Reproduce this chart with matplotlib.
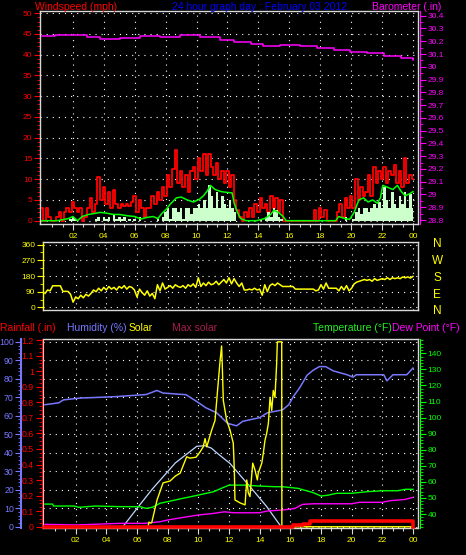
import numpy as np
import matplotlib
matplotlib.use('Agg')
import matplotlib.pyplot as plt
from matplotlib.ticker import MultipleLocator, FixedLocator, FuncFormatter

plt.rcParams['font.family'] = ['Liberation Sans', 'DejaVu Sans']

RED = '#ff0000'
GREEN = '#00ff00'
LGREEN = '#ccffcc'
MAG = '#ff00ff'
YEL = '#ffff00'
HUM = '#7878ff'
MAXSOL = '#c0d8ff'
FRAME = '#d8d8d8'

# ---- windspeed / barometer, 10 minute samples 00:00 .. 24:00
wind_t = np.arange(0, 24 + 1e-9, 1 / 6)
gust = [3, 0, 3, 1, 0, 0,
        1, 2, 0, 2, 3, 2,
        4.5, 3, 2, 3, 0, 1,
        3, 5.5, 2, 4, 10.5, 5,
        8, 4, 7, 3, 7.5, 4,
        3, 4, 3.5, 4, 3.5, 4.5,
        6, 2, 5, 3, 1, 3,
        3, 6, 4, 7, 5, 8,
        6, 11, 8, 12.5, 17, 9,
        12, 8, 11, 7, 12, 13,
        10, 15, 12, 16, 11, 16,
        13, 11, 14, 10, 12, 9,
        12, 8, 11, 5, 2.5, 1,
        0, 2, 1, 3, 1, 4,
        2, 5.5, 3, 4, 2, 6,
        3, 5.5, 2, 5, 0, 0,
        0, 0, 0, 0, 0, 0,
        0, 0, 0, 0, 2.5, 0,
        3, 1, 2.5, 0, 0, 0,
        0, 2, 4, 1, 5.5, 3,
        6, 3, 10, 5, 8, 6,
        7, 11, 6, 13, 9, 12,
        10, 13, 9, 12, 11, 13.5,
        9, 12, 8, 15, 9, 11,
        10]
speed = [0, 0, 0, 0, 0, 0,
         0, 0, 0, 0, 0, 0.5,
         1, 0.5, 0, 0, 0, 0,
         0, 0, 0, 0.5, 1, 0,
         1, 0.5, 1, 0, 1.5, 0.5,
         1, 0.5, 1, 0, 0.5, 0,
         0.5, 0, 1, 0, 0, 0,
         0, 0, 0, 0.5, 0, 1,
         2, 3, 0.5, 3, 3, 2,
         3, 0.5, 3, 3, 1.5, 3,
         3, 4, 3, 5, 3, 8.5,
         6, 3, 7, 3, 6, 4,
         3, 5, 3, 2, 0, 0,
         0, 0, 0, 0, 0, 0,
         0, 0.5, 0, 1, 2, 1,
         3, 2.5, 1, 0.5, 0, 0,
         0, 0, 0, 0, 0, 0,
         0, 0, 0, 0, 0, 0,
         0, 0, 0, 0, 0, 0,
         0, 0, 0, 0, 1, 0,
         0, 0.5, 2, 3, 1.5, 3,
         3, 2, 3, 4, 3, 4.5,
         3, 8, 5, 3, 7, 4,
         3, 6, 4, 7, 3, 6.5,
         3]
avg_t = [0, 0.5, 1.0, 1.7, 2.0, 2.3, 2.6, 3.0, 3.5, 3.75,
         4.2, 4.6, 5.0, 5.5, 6.0, 6.4, 6.8, 7.2, 7.5, 7.7,
         8.1, 8.3, 8.7, 9.0, 9.4, 9.8, 10.2, 10.45, 10.7, 10.9,
         11.2, 11.6, 12.0, 12.3, 12.45, 12.65, 12.85, 13.2, 13.9, 14.4,
         14.8, 15.0, 15.3, 15.6, 15.8, 19.0, 19.2, 19.6, 19.9, 20.2,
         20.5, 20.8, 21.1, 21.4, 21.7, 21.9, 22.05, 22.4, 22.7, 23.0,
         23.25, 23.5, 23.8, 24.0]
avg_v = [0, 0, 0, 0.5, 1, 0, 1, 1.5, 1.8, 2,
         1.8, 1.5, 1.5, 1.2, 1, 0.4, 0.8, 1, 0.5, 1.5,
         3, 4, 5.5, 5.7, 5, 4.5, 5.2, 6, 7.2, 8.5,
         7.5, 7, 6.8, 6.7, 4, 2, 0.5, 0, 0, 0.5,
         1.5, 2.5, 2, 1, 0, 0, 1, 0.5, 0.3, 2,
         5, 5.5, 4.5, 5, 4.2, 5.5, 8.5, 8, 7.5, 8.5,
         7, 6, 6.5, 7]
baro_t = [0, 0.84, 2.24, 2.9, 3.75, 4.83, 5.05, 6.34, 7.64, 8.93, 10.2, 11.5,
          12.4, 13.5, 14.3, 15.4, 16.7, 17.8, 18.9, 19.9, 21.0, 22.1, 23.2, 24.0]
baro_v = [30.238, 30.25, 30.248, 30.233, 30.215, 30.215, 30.228, 30.241,
          30.236, 30.248, 30.236, 30.213, 30.197, 30.175, 30.164, 30.167,
          30.164, 30.146, 30.133, 30.115, 30.110, 30.082, 30.072, 30.052]

# ---- wind direction, 10 minute samples
wdir = [80, 100, 95, 124, 124, 124,
        124, 92, 92, 92, 75, 30,
        60, 50, 70, 55, 75, 65,
        80, 100, 90, 110, 95, 115,
        100, 120, 105, 115, 100, 120,
        110, 125, 105, 120, 115, 100,
        60, 105, 85, 70, 95, 65,
        80, 50, 130, 95, 140, 105,
        115, 125, 110, 130, 120, 115,
        125, 110, 130, 120, 135, 115,
        170, 120, 140, 125, 145, 130,
        135, 150, 130, 145, 160, 140,
        170, 135, 165, 140, 120, 140,
        100, 100, 105, 100, 110, 100,
        105, 70, 130, 90, 125, 135,
        125, 140, 130, 120, 120, 120,
        120, 120, 105, 105, 105, 105,
        105, 105, 105, 105, 95, 100,
        130, 105, 140, 110, 110, 110,
        110, 95, 120, 100, 125, 95,
        110, 135, 145, 150, 155, 160,
        155, 160, 150, 165, 155, 160,
        165, 160, 170, 160, 170, 165,
        170, 165, 175, 170, 175, 168,
        178]

# ---- bottom panel
hum_t = [0, 0.9, 1.2, 2.3, 3.6, 4.7, 6.6, 7.3, 7.7, 9.2, 9.9, 10.5,
         11.2, 11.9, 12.3, 12.5, 12.9, 14.0, 14.5, 15.5, 15.9, 16.2,
         16.6, 17.1, 17.5, 17.9, 18.3, 18.8, 19.7, 20.1, 20.3, 22.1,
         22.3, 22.7, 23.6, 24.0]
hum_v = [66, 67, 68.6, 69.6, 70, 70.4, 71.5, 73.7, 72.3, 71.4, 67.7, 64.3,
         61.6, 56, 55, 54.6, 57, 59, 61.6, 63.2, 66, 70.4,
         75, 82, 84.7, 86.6, 86.6, 84.3, 82.2, 80.9, 82.2, 82.2,
         78.9, 82.2, 82.2, 85.8]
temp_t = [0, 0.5, 0.55, 1.9, 2.2, 3.3, 4.9, 6.2, 6.6, 7.0,
          7.5, 8.0, 9.0, 10.0, 11.0, 11.5, 12.0, 13.0, 14.0, 15.0,
          15.5, 16.5, 17.5, 18.0, 18.5, 19.0, 20.0, 21.0, 22.0, 23.0,
          23.5, 24.0]
temp_v = [46.2, 46.2, 45, 45, 44.2, 45, 44.6, 44.6, 43.5, 44.2,
          46.7, 47.7, 49.8, 51.8, 53.9, 56, 58, 58, 57.4, 57,
          57, 56, 53.3, 51.2, 51.8, 52.9, 52.9, 53.9, 54.5, 54.5,
          55.4, 55.4]
dew_t = [0, 2.0, 4.9, 6.5, 7.5, 8.0, 9.0, 10.0, 11.0, 11.7, 12.3, 14.0,
         14.5, 15.5, 16.3, 16.8, 17.5, 20.0, 20.5, 22.0, 22.5, 23.5, 24.0]
dew_v = [33.6, 33.2, 34.2, 34.2, 35.2, 36.3, 37.9, 39.4, 40.4, 41.4, 40.8, 40.8,
         41.9, 42.5, 43.5, 46, 46.4, 46.4, 47.3, 47.3, 48.3, 49.1, 50.4]
rain_t = [0, 15.4, 16.2, 16.8, 17.3, 24.0]
rain_v = [0, 0, 0.01, 0.02, 0.04, 0]
solar_t = [0, 6.72, 6.78, 6.9, 6.96, 7.31, 7.70, 8.15, 8.5, 8.82, 9.0, 9.24,
           9.46, 9.85, 10.1, 10.32, 10.44, 10.55, 10.87, 11.09, 11.31, 11.42,
           11.52, 11.56, 11.63, 11.74, 11.85, 12.07, 12.28, 12.35, 12.39, 12.72,
           13.05, 13.16, 13.26, 13.37, 13.55, 13.70, 13.85, 13.91, 14.14, 14.24,
           14.35, 14.46, 14.57, 14.68, 14.79, 14.89, 15.0, 15.11, 15.15, 15.17,
           15.44, 15.45, 24.0]
solar_v = [0, 0, 25, 20, 22, 145, 237, 247, 274, 290, 328, 378,
           371, 376, 403, 432, 477, 432, 522, 575, 790, 898,
           978, 882, 683, 629, 575, 522, 452, 306, 145, 129,
           118, 253, 183, 163, 344, 306, 253, 290, 344, 398,
           468, 505, 559, 700, 629, 737, 700, 882, 989, 1000,
           1000, 0, 0]
maxsol_t = [5.08, 6.2, 7.0, 8.5, 9.2, 9.9, 10.45, 10.85, 11.2, 12.07, 13.37, 14.46, 15.4]
maxsol_v = [0, 120, 204, 345, 390, 435, 438, 425, 400, 342, 217, 109, 0]

hour_ticks = list(range(2, 25, 2))
hour_labels = ['%02d' % (h % 24) for h in hour_ticks]
XLIM = (-0.13, 24.33)


def grid(ax, axis='both'):
    ax.grid(True, which='major', axis=axis, color='white',
            linestyle=(0, (1, 4.5)), linewidth=0.8)


def frame(ax):
    ax.set_facecolor('black')
    for s in ax.spines.values():
        s.set_color(FRAME)
        s.set_linewidth(1.0)


def xaxis(ax, labels=True):
    ax.set_xlim(*XLIM)
    ax.xaxis.set_major_locator(FixedLocator(hour_ticks))
    ax.xaxis.set_minor_locator(FixedLocator(np.arange(2 / 3, 24.1, 2 / 3)))
    ax.tick_params(axis='x', which='major', colors=FRAME, length=4, width=0.8,
                   labelcolor=YEL, labelsize=6, pad=2.5)
    ax.tick_params(axis='x', which='minor', colors=FRAME, length=2, width=0.8)
    if labels:
        ax.set_xticklabels(hour_labels)
    else:
        ax.tick_params(axis='x', which='both', length=0, labelbottom=False)


fig = plt.figure(figsize=(4.66, 5.55), dpi=100, facecolor='black')

# ================= top panel
ax1 = fig.add_axes([0.0858, 0.5964, 0.8112, 0.3843])
frame(ax1)
ax1.fill_between(wind_t, speed, step='mid', color=LGREEN, lw=0, zorder=3)
ax1.plot(wind_t, gust, color=RED, lw=1.3, drawstyle='steps-mid', zorder=2)
ax1.plot(avg_t, avg_v, color=GREEN, lw=1.1, zorder=4)
ax1.set_ylim(-0.8, 50.6)
ax1.yaxis.set_major_locator(MultipleLocator(5))
ax1.yaxis.set_minor_locator(MultipleLocator(1))
ax1.tick_params(axis='y', which='major', colors=RED, length=4, labelsize=6, pad=1.5)
ax1.tick_params(axis='y', which='minor', colors=RED, length=2)
xaxis(ax1)
grid(ax1)

ax1b = ax1.twinx()
ax1b.plot(baro_t, baro_v, color=MAG, lw=1.1, drawstyle='steps-post')
ax1b.set_ylim(28.769, 30.439)
ax1b.yaxis.set_major_locator(MultipleLocator(0.1))
ax1b.yaxis.set_minor_locator(MultipleLocator(0.05))
ax1b.yaxis.set_major_formatter(FuncFormatter(lambda v, p: '%g' % round(v, 1)))
ax1b.tick_params(axis='y', which='major', colors=MAG, length=4, labelsize=6, pad=1.5)
ax1b.tick_params(axis='y', which='minor', colors=MAG, length=2)
for k in ['left', 'top', 'bottom']:
    ax1b.spines[k].set_visible(False)
ax1b.spines['right'].set_color(MAG)
ax1b.spines['right'].set_position(('outward', 1.5))

fig.text(0.075, 0.987, 'Windspeed (mph)', color=RED, fontsize=7.5, ha='left', va='center')
fig.text(0.558, 0.987, '24 hour graph day : February 03 2012', color='#0000ff',
         fontsize=7.5, ha='center', va='center')
fig.text(0.798, 0.987, 'Barometer (.in)', color=MAG, fontsize=7.5, ha='left', va='center')

# ================= wind direction panel
ax2 = fig.add_axes([0.0923, 0.4414, 0.8047, 0.1225])
frame(ax2)
ax2.plot(wind_t, wdir, color=YEL, lw=1.1)
ax2.set_ylim(-15, 375)
ax2.yaxis.set_major_locator(FixedLocator([0, 90, 180, 270, 360]))
ax2.yaxis.set_minor_locator(MultipleLocator(45))
ax2.tick_params(axis='y', which='major', colors=YEL, length=4, labelsize=6, pad=1.5)
ax2.tick_params(axis='y', which='minor', colors=YEL, length=2)
ax2.spines['left'].set_color(YEL)
xaxis(ax2, labels=False)
grid(ax2)

for lab, y in zip(['N', 'W', 'S', 'E', 'N'], [244, 261, 278, 295, 311.5]):
    fig.text(0.938, 1 - y / 555, lab, color=YEL, fontsize=8.5, ha='center', va='center')

# ================= bottom panel
ax3 = fig.add_axes([0.0923, 0.0486, 0.8047, 0.3405])
frame(ax3)
ax3.set_ylim(-0.7, 101.5)
ax3.spines['left'].set_position(('outward', 15.5))
ax3.spines['left'].set_color(HUM)
ax3.spines['left'].set_linewidth(1.5)
ax3.yaxis.set_major_locator(MultipleLocator(10))
ax3.yaxis.set_minor_locator(MultipleLocator(2))
ax3.tick_params(axis='y', which='major', colors=HUM, length=4, labelsize=6.3, pad=1.5)
ax3.tick_params(axis='y', which='minor', colors=HUM, length=2)
xaxis(ax3)
grid(ax3)

ax_sol = ax3.twinx()
ax_sol.set_ylim(-7, 1015)
ax_sol.set_yticks([])
for s in ax_sol.spines.values():
    s.set_visible(False)
ax_sol.plot(maxsol_t, maxsol_v, color=MAXSOL, lw=0.9)
ax3.plot(hum_t, hum_v, color=HUM, lw=1.1)

ax_t = ax3.twinx()
ax_t.set_ylim(31.3, 148.9)
ax_t.plot(temp_t, temp_v, color=GREEN, lw=1.0)
ax_t.plot(dew_t, dew_v, color=MAG, lw=1.0)
ax_t.yaxis.set_major_locator(MultipleLocator(10))
ax_t.yaxis.set_minor_locator(MultipleLocator(2))
ax_t.yaxis.set_major_formatter(FuncFormatter(lambda v, p: '' if v < 40 or v > 140 else '%d' % v))
ax_t.tick_params(axis='y', which='major', colors=GREEN, length=4, labelsize=6, pad=1.5)
ax_t.tick_params(axis='y', which='minor', colors=GREEN, length=2)
ax_t.spines['right'].set_color(GREEN)
ax_t.spines['right'].set_position(('outward', 1.5))
ax_t.spines['left'].set_color(FRAME)
for k in ['top', 'bottom']:
    ax_t.spines[k].set_visible(False)

ax_sol2 = ax3.twinx()
ax_sol2.set_ylim(-7, 1015)
ax_sol2.set_yticks([])
for s in ax_sol2.spines.values():
    s.set_visible(False)
ax_sol2.plot(solar_t, solar_v, color=YEL, lw=1.0)

ax_r = ax3.twinx()
ax_r.yaxis.tick_left()
ax_r.set_ylim(-0.0084, 1.207)
ax_r.plot(rain_t, rain_v, color=RED, lw=2.6, drawstyle='steps-post', clip_on=False)
ax_r.yaxis.set_major_locator(MultipleLocator(0.1))
ax_r.yaxis.set_minor_locator(MultipleLocator(0.025))
ax_r.yaxis.set_major_formatter(FuncFormatter(lambda v, p: '%g' % round(v, 1)))
ax_r.tick_params(axis='y', which='major', colors=RED, length=4, labelsize=6.3, pad=1.5)
ax_r.tick_params(axis='y', which='minor', colors=RED, length=2)
for k in ['right', 'top', 'bottom']:
    ax_r.spines[k].set_visible(False)
ax_r.spines['left'].set_color(RED)
ax_r.spines['left'].set_position(('outward', 1))

ly = 1 - 327.7 / 555
fig.text(0.0, ly, 'Rainfall (.in)', color=RED, fontsize=7.5, ha='left', va='center')
fig.text(0.1438, ly, 'Humidity (%)', color=HUM, fontsize=7.5, ha='left', va='center')
fig.text(0.275, ly, 'Solar', color=YEL, fontsize=7.5, ha='left', va='center')
fig.text(0.369, ly, 'Max solar', color='#a8204c', fontsize=7.5, ha='left', va='center')
fig.text(0.6717, ly, 'Temperature (\u00b0F)', color='#22ee22', fontsize=7.5, ha='left', va='center')
fig.text(0.841, ly, 'Dew Point (\u00b0F)', color=MAG, fontsize=7.5, ha='left', va='center')

fig.savefig('out.png', dpi=100, facecolor='black')
